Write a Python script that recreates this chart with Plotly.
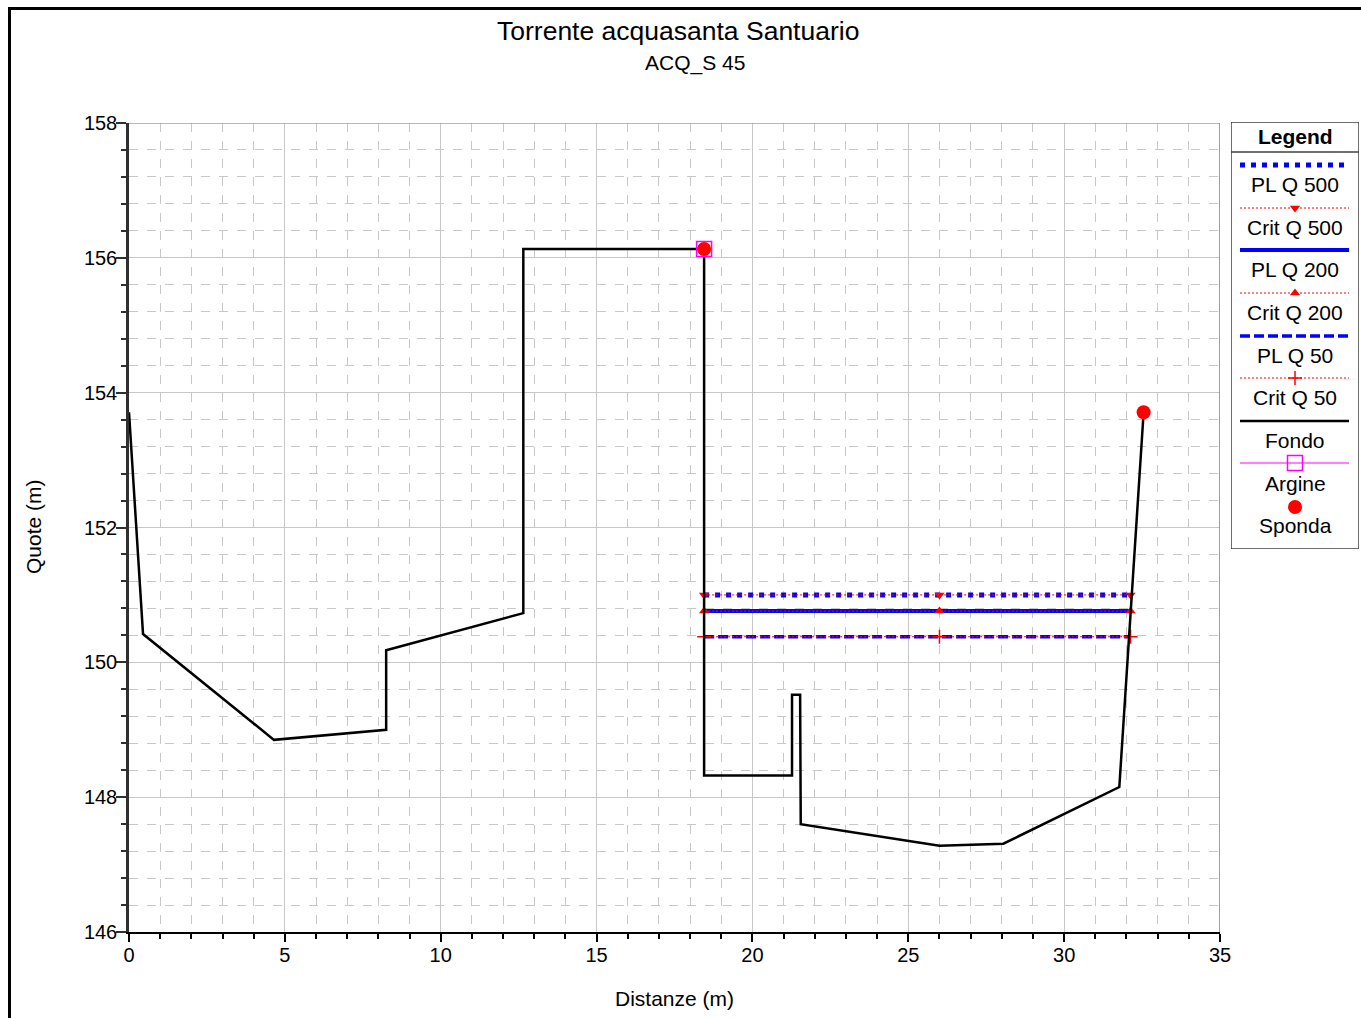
import plotly.graph_objects as go

# ---------------- data ----------------
fondo_x = [0.0, 0.45, 4.65, 8.25, 8.25, 12.65, 12.65, 18.45, 18.45, 21.27, 21.27, 21.53, 21.55, 26.0, 28.05, 31.77, 32.55]
fondo_y = [153.71, 150.42, 148.85, 149.0, 150.18, 150.73, 156.13, 156.13, 148.32, 148.32, 149.52, 149.52, 147.6, 147.28, 147.31, 148.15, 153.71]

argine_x = [18.45]
argine_y = [156.13]

sponda_x = [18.45, 32.55]
sponda_y = [156.13, 153.71]

water_x = [18.45, 26.0, 32.13]
pl_q500 = [151.0, 151.0, 151.0]
pl_q200 = [150.76, 150.76, 150.76]
pl_q50 = [150.38, 150.38, 150.38]
crit_q500 = [151.0, 151.0, 151.0]
crit_q200 = [150.76, 150.76, 150.76]
crit_q50 = [150.38, 150.38, 150.38]

legend_labels = ["PL Q 500", "Crit Q 500", "PL Q 200", "Crit Q 200", "PL Q 50",
                 "Crit Q 50", "Fondo", "Argine", "Sponda"]

FONT = "Liberation Sans, Arial, sans-serif"
W, H = 1361, 1018
BLUE = "#0000ff"
RED = "#ff0000"
MAG = "#ff00ff"

L_Q500 = dict(color=BLUE, width=5, dash="5px,6px")
L_Q200 = dict(color=BLUE, width=4)
L_Q50 = dict(color=BLUE, width=3.5, dash="10px,4px")
L_CRIT = dict(color=RED, width=1, dash="2px,2px")
L_FONDO = dict(color="black", width=2.5)
M_DOWN = dict(symbol="triangle-down", size=9, color=RED)
M_UP = dict(symbol="triangle-up", size=9, color=RED)
M_CROSS = dict(symbol="cross-thin", size=10, color=RED, line=dict(color=RED, width=1.5))
M_ARG = dict(symbol="square-open", size=15, color=MAG, line=dict(width=1.5, color=MAG))
M_SPO = dict(symbol="circle", size=14, color=RED)

fig = go.Figure()

# water levels (blue) then critical (red dotted)
fig.add_trace(go.Scatter(x=water_x, y=pl_q500, mode="lines", line=L_Q500, showlegend=False))
fig.add_trace(go.Scatter(x=water_x, y=pl_q200, mode="lines", line=L_Q200, showlegend=False))
fig.add_trace(go.Scatter(x=water_x, y=pl_q50, mode="lines", line=L_Q50, showlegend=False))
fig.add_trace(go.Scatter(x=water_x, y=crit_q500, mode="lines+markers", line=L_CRIT,
                         marker=M_DOWN, showlegend=False))
fig.add_trace(go.Scatter(x=water_x, y=crit_q200, mode="lines+markers", line=L_CRIT,
                         marker=M_UP, showlegend=False))
fig.add_trace(go.Scatter(x=water_x, y=crit_q50, mode="lines+markers", line=L_CRIT,
                         marker=M_CROSS, showlegend=False))
# ground profile
fig.add_trace(go.Scatter(x=fondo_x, y=fondo_y, mode="lines", line=L_FONDO, showlegend=False))
# argine
fig.add_trace(go.Scatter(x=argine_x, y=argine_y, mode="markers", marker=M_ARG, showlegend=False))
# sponda
fig.add_trace(go.Scatter(x=sponda_x, y=sponda_y, mode="markers", marker=M_SPO, showlegend=False))

# ---------------- custom legend on its own axis (pixel-like coordinates) ----------------
LX0, LX1 = 1231, 1359
LY0, LY1 = 122, 549
sx0, sx1, cx = 1240, 1349, 1295
sw_y = [165, 208, 250, 293, 336, 378, 421, 463, 507]
tx_y = [184, 227, 269, 312, 355, 397, 440, 483, 525]

legend_lines = [L_Q500, L_CRIT, L_Q200, L_CRIT, L_Q50, L_CRIT, L_FONDO,
                dict(color=MAG, width=1.2), None]
legend_markers = [None, M_DOWN, None, M_UP, None, M_CROSS, None, M_ARG, M_SPO]

for i in range(len(legend_labels)):
    if legend_lines[i] is not None:
        fig.add_trace(go.Scatter(x=[sx0, sx1], y=[sw_y[i], sw_y[i]], xaxis="x2", yaxis="y2",
                                 mode="lines", line=legend_lines[i],
                                 showlegend=False, hoverinfo="skip"))
    if legend_markers[i] is not None:
        fig.add_trace(go.Scatter(x=[cx], y=[sw_y[i]], xaxis="x2", yaxis="y2", mode="markers",
                                 marker=legend_markers[i], showlegend=False, hoverinfo="skip"))

annotations = []
for i, lab in enumerate(legend_labels):
    annotations.append(dict(x=cx, y=tx_y[i], xref="x2", yref="y2", text=lab, showarrow=False,
                            font=dict(family=FONT, size=21, color="black"),
                            xanchor="center", yanchor="middle"))
annotations.append(dict(x=cx, y=136, xref="x2", yref="y2", text="<b>Legend</b>", showarrow=False,
                        font=dict(family=FONT, size=21, color="black"),
                        xanchor="center", yanchor="middle"))

# titles
annotations += [
    dict(x=678 / W, y=1 - 31 / H, xref="paper", yref="paper", text="Torrente acquasanta Santuario",
         showarrow=False, font=dict(family=FONT, size=26.5, color="black"), xanchor="center", yanchor="middle"),
    dict(x=695 / W, y=1 - 63 / H, xref="paper", yref="paper", text="ACQ_S 45",
         showarrow=False, font=dict(family=FONT, size=21, color="black"), xanchor="center", yanchor="middle"),
    dict(x=674 / W, y=1 - 998 / H, xref="paper", yref="paper", text="Distanze (m)",
         showarrow=False, font=dict(family=FONT, size=21, color="black"), xanchor="center", yanchor="middle"),
    dict(x=33 / W, y=1 - 527 / H, xref="paper", yref="paper", text="Quote (m)", textangle=-90,
         showarrow=False, font=dict(family=FONT, size=21, color="black"), xanchor="center", yanchor="middle"),
]

fx, fy = 9.5 / W, 1 - 8.5 / H
shapes = [
    # outer frame (left and top sides; right and bottom fall outside the page)
    dict(type="path", xref="paper", yref="paper",
         path=f"M {fx},0 L {fx},{fy} L 1,{fy}",
         line=dict(color="black", width=3), layer="above"),
    # legend box
    dict(type="rect", xref="x2", yref="y2", x0=LX0, x1=LX1, y0=LY0, y1=LY1,
         line=dict(color="#404040", width=1.5)),
    dict(type="line", xref="x2", yref="y2", x0=LX0, x1=LX1, y0=152, y1=152,
         line=dict(color="#404040", width=1.5)),
]

GRID = "#c8c8c8"
fig.update_layout(
    width=W, height=H, autosize=False,
    margin=dict(l=0, r=0, t=0, b=0, pad=0),
    paper_bgcolor="white", plot_bgcolor="white",
    font=dict(family=FONT, size=20, color="black"),
    showlegend=False,
    annotations=annotations,
    shapes=shapes,
    xaxis=dict(domain=[129 / W, 1220 / W], range=[0, 35], dtick=5, tick0=0, automargin=False,
               showgrid=True, gridcolor=GRID, gridwidth=1,
               showline=True, linecolor="black", linewidth=2,
               ticks="outside", ticklen=8, tickcolor="black", tickwidth=1.5,
               ticklabelstandoff=-4,
               tickfont=dict(family=FONT, size=20, color="black"),
               zeroline=False, fixedrange=True,
               minor=dict(dtick=1, showgrid=True, gridcolor=GRID, griddash="dash", gridwidth=1,
                          ticks="outside", ticklen=5, tickcolor="black", tickwidth=1.5)),
    yaxis=dict(domain=[1 - 932 / H, 1 - 123 / H], range=[146, 158], dtick=2, tick0=146, automargin=False,
               showgrid=True, gridcolor=GRID, gridwidth=1,
               showline=True, linecolor="#303030", linewidth=2.5,
               ticks="outside", ticklen=10, tickcolor="#303030", tickwidth=1.5,
               ticklabelstandoff=-5,
               tickfont=dict(family=FONT, size=20, color="black"),
               zeroline=False, fixedrange=True,
               minor=dict(dtick=0.4, tick0=146, showgrid=True, gridcolor=GRID, griddash="dash", gridwidth=1,
                          ticks="outside", ticklen=5, tickcolor="#303030", tickwidth=1.5)),
    xaxis2=dict(domain=[LX0 / W, LX1 / W], range=[LX0, LX1], visible=False, fixedrange=True,
                automargin=False, anchor="y2"),
    yaxis2=dict(domain=[1 - LY1 / H, 1 - LY0 / H], range=[LY1, LY0], visible=False, fixedrange=True,
                automargin=False, anchor="x2"),
)

# top and right plot borders (light grey)
fig.add_shape(type="line", xref="x", yref="y", x0=0, x1=35, y0=158, y1=158,
              line=dict(color="#a0a0a0", width=1.5))
fig.add_shape(type="line", xref="x", yref="y", x0=35, x1=35, y0=146, y1=158,
              line=dict(color="#808080", width=1.5))

fig.write_html("out.html", config={"displayModeBar": False},
               post_script="document.body.style.margin='0';document.body.style.overflow='hidden';")
